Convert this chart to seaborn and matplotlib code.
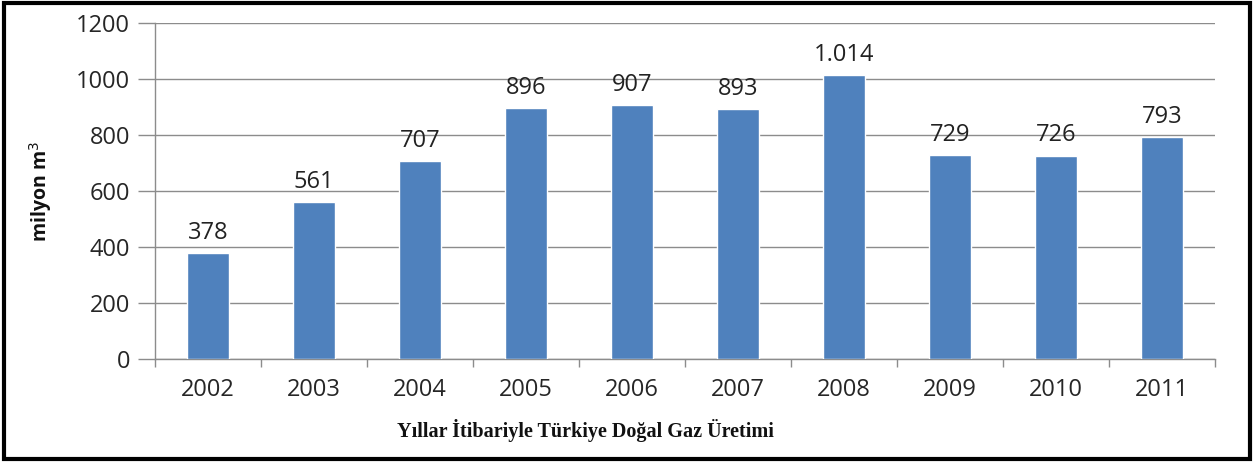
import pandas as pd
import seaborn as sns
import matplotlib.pyplot as plt
from matplotlib.patches import Rectangle
from matplotlib.ticker import FixedLocator

years = ['2002', '2003', '2004', '2005', '2006', '2007', '2008', '2009', '2010', '2011']
production = [378, 561, 707, 896, 907, 893, 1014, 729, 726, 793]
value_labels = ['378', '561', '707', '896', '907', '893', '1.014', '729', '726', '793']

df = pd.DataFrame({'Yil': years, 'Uretim': production})

sns.set_theme(style="white")
plt.rcParams['font.family'] = ['Open Sans', 'DejaVu Sans']

fig = plt.figure(figsize=(12.54, 4.62), dpi=100)
ax = fig.add_axes([0.1236, 0.223, 0.8454, 0.727])

sns.barplot(data=df, x='Yil', y='Uretim', color='#4F81BD', saturation=1,
            width=0.39, ax=ax, zorder=3)

for i, (v, lab) in enumerate(zip(production, value_labels)):
    ax.text(i, v + 30, lab, ha='center', va='bottom', fontsize=17, color='#222222')

ax.set_ylim(0, 1200)
ax.set_xlim(-0.5, len(years) - 0.5)
ax.set_yticks(range(0, 1201, 200))
ax.yaxis.grid(True, color='#8c8c8c', lw=1, zorder=0)
ax.tick_params(axis='y', length=12, width=1, color='#8c8c8c', labelsize=17,
               labelcolor='#262626', pad=6, left=True)
ax.tick_params(axis='x', which='major', length=0, labelsize=17,
               labelcolor='#262626', pad=14)
ax.xaxis.set_minor_locator(FixedLocator([i - 0.5 for i in range(len(years) + 1)]))
ax.tick_params(axis='x', which='minor', length=6, width=1, color='#8c8c8c',
               bottom=True, direction='out')

for s in ['top', 'right']:
    ax.spines[s].set_visible(False)
for s in ['left', 'bottom']:
    ax.spines[s].set_color('#8c8c8c')
    ax.spines[s].set_linewidth(1)

ax.set_ylabel('milyon m$^3$', fontsize=14, fontweight='bold', color='#111111', labelpad=16)
ax.set_xlabel('')

fig.text(0.467, 0.069, 'Yıllar İtibariyle Türkiye Doğal Gaz Üretimi',
         ha='center', va='center', fontsize=14.5, fontweight='bold',
         family=['Liberation Serif', 'DejaVu Serif'], color='#111111')

fig.patches.append(Rectangle((0.003, 0.006), 0.994, 0.988, transform=fig.transFigure,
                             fill=False, edgecolor='black', lw=3))

fig.savefig('out.png', dpi=100)
